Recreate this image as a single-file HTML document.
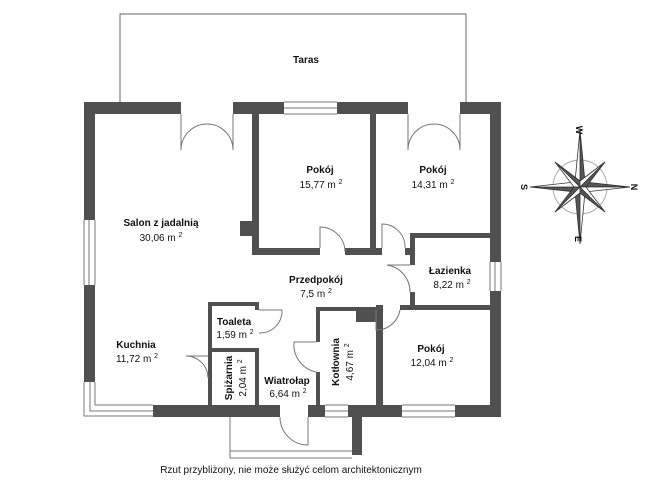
<!DOCTYPE html>
<html><head><style>
body{margin:0;background:#fff;width:654px;height:491px;overflow:hidden}
text{font-family:"Liberation Sans",sans-serif;font-size:10px;fill:#111;text-anchor:middle}
.b{font-weight:bold}
</style></head><body>
<svg width="654" height="491" viewBox="0 0 654 491">
<g fill="none" stroke="#666" stroke-width="1">
<path d="M120 103 V14 H466 V103"/>
</g>
<g fill="#505050">
<rect x="84" y="102" width="97" height="12"/>
<rect x="233" y="102" width="51" height="12"/>
<rect x="337" y="102" width="71" height="12"/>
<rect x="460" y="102" width="41" height="12"/>
<rect x="84" y="102" width="11" height="118"/>
<rect x="84" y="285" width="11" height="97"/>
<rect x="490" y="102" width="11" height="160"/>
<rect x="490" y="291" width="11" height="125"/>
<rect x="153" y="405" width="127" height="12"/>
<rect x="308" y="405" width="17" height="12"/>
<rect x="348" y="405" width="54" height="12"/>
<rect x="455" y="405" width="46" height="12"/>
<rect x="352" y="405" width="10" height="50"/>
<rect x="252" y="114" width="7" height="141"/>
<rect x="240" y="221" width="13" height="15"/>
<rect x="370" y="114" width="6" height="141"/>
<rect x="252" y="248" width="68" height="7"/>
<rect x="345" y="248" width="37" height="7"/>
<rect x="405" y="248" width="8" height="7"/>
<rect x="410" y="233" width="81" height="5"/>
<rect x="410" y="233" width="5" height="32"/>
<rect x="410" y="292" width="5" height="17"/>
<rect x="400" y="305" width="91" height="5"/>
<rect x="355" y="307" width="21" height="4"/>
<rect x="376" y="305" width="7" height="100"/>
<rect x="356" y="307" width="20" height="15"/>
<rect x="208" y="302" width="4" height="103"/>
<rect x="208" y="302" width="51" height="4"/>
<rect x="255" y="302" width="4" height="8"/>
<rect x="208" y="348" width="51" height="4"/>
<rect x="255" y="348" width="4" height="57"/>
<rect x="316" y="307" width="4" height="35"/>
<rect x="316" y="372" width="4" height="33"/>
<rect x="316" y="307" width="40" height="4"/>
</g>
<g fill="none" stroke="#777" stroke-width="1">
<path d="M84 220 V285 M89 220 V285 M95 220 V285"/>
<path d="M84 382 V416 H153 M90 382 V411 H153 M95 382 V405 H153"/>
<path d="M490 262 V291 M495 262 V291 M501 262 V291"/>
<path d="M284 102 H337 M284 108 H337 M284 114 H337"/>
<path d="M402 405 H455 M402 411 H455 M402 417 H455"/>
<path d="M325 405 H348 M325 411 H348 M325 417 H348"/>
<path d="M181 114 V150 A26 26 0 0 1 207 124 A26 26 0 0 1 233 150 V114"/>
<path d="M408 114 V150 A26 26 0 0 1 434 124 A26 26 0 0 1 460 150 V114"/>
<path d="M320 248 V227 A25 25 0 0 1 345 252"/>
<path d="M382 248 V224 A23 23 0 0 1 405 248"/>
<path d="M410 265 H387 A27 27 0 0 1 410 292"/>
<path d="M376 310 V330 A24 24 0 0 0 400 310"/>
<path d="M259 310 H282 A22 22 0 0 1 259 333"/>
<path d="M208 356 H186 A22 22 0 0 1 208 378"/>
<path d="M316 342 H294 A28 28 0 0 0 316 372"/>
<path d="M280 417 A28 28 0 0 0 308 445 V417"/>
<path d="M230 417 V458 H352 M230 451 H352"/>
</g>
<g transform="translate(580,187)">
<circle r="27" fill="none" stroke="#aaa" stroke-width="1"/>
<g stroke="#333" stroke-width="0.8">
<polygon points="0,-57 5,-5 0,0" fill="#555"/><polygon points="0,-57 -5,-5 0,0" fill="#fff"/>
<polygon points="0,57 -5,5 0,0" fill="#555"/><polygon points="0,57 5,5 0,0" fill="#fff"/>
<polygon points="-50,0 -5,5 0,0" fill="#555"/><polygon points="-50,0 -5,-5 0,0" fill="#fff"/>
<polygon points="50,0 5,-5 0,0" fill="#555"/><polygon points="50,0 5,5 0,0" fill="#fff"/>
<polygon points="-25,-25 0,-6 0,0" fill="#555"/><polygon points="-25,-25 -6,0 0,0" fill="#fff"/>
<polygon points="25,-25 6,0 0,0" fill="#555"/><polygon points="25,-25 0,-6 0,0" fill="#fff"/>
<polygon points="25,25 0,6 0,0" fill="#555"/><polygon points="25,25 6,0 0,0" fill="#fff"/>
<polygon points="-25,25 -6,0 0,0" fill="#555"/><polygon points="-25,25 0,6 0,0" fill="#fff"/>
</g>
<text class="b" transform="translate(-1,-57) rotate(90)" style="font-size:9px" y="3">W</text>
<text class="b" transform="translate(-56,0) rotate(90)" style="font-size:9px" y="3">S</text>
<text class="b" transform="translate(54,0) rotate(90)" style="font-size:9px" y="3">N</text>
<text class="b" transform="translate(-2,52) rotate(90)" style="font-size:9px" y="3">E</text>
</g>
<text class="b" x="306" y="63">Taras</text>
<text class="b" x="161" y="226">Salon z jadalnią</text><text x="161" y="241">30,06 m <tspan dy="-4" style="font-size:7px">2</tspan></text>
<text class="b" x="320" y="173">Pokój</text><text x="321" y="188">15,77 m <tspan dy="-4" style="font-size:7px">2</tspan></text>
<text class="b" x="433" y="173">Pokój</text><text x="433" y="188">14,31 m <tspan dy="-4" style="font-size:7px">2</tspan></text>
<text class="b" x="316" y="283">Przedpokój</text><text x="316" y="297">7,5 m <tspan dy="-4" style="font-size:7px">2</tspan></text>
<text class="b" x="450" y="274">Łazienka</text><text x="452" y="288">8,22 m <tspan dy="-4" style="font-size:7px">2</tspan></text>
<text class="b" x="234" y="325">Toaleta</text><text x="235" y="338">1,59 m <tspan dy="-4" style="font-size:7px">2</tspan></text>
<text class="b" x="136" y="348">Kuchnia</text><text x="137" y="362">11,72 m <tspan dy="-4" style="font-size:7px">2</tspan></text>
<text class="b" x="431" y="352">Pokój</text><text x="432" y="366">12,04 m <tspan dy="-4" style="font-size:7px">2</tspan></text>
<text class="b" x="287" y="384">Wiatrołap</text><text x="288" y="397">6,64 m <tspan dy="-4" style="font-size:7px">2</tspan></text>
<text class="b" transform="translate(232,378) rotate(-90)">Spiżarnia</text>
<text transform="translate(246,378) rotate(-90)">2,04 m <tspan dy="-4" style="font-size:7px">2</tspan></text>
<text class="b" transform="translate(339,362) rotate(-90)">Kotłownia</text>
<text transform="translate(353,362) rotate(-90)">4,67 m <tspan dy="-4" style="font-size:7px">2</tspan></text>
<text x="291" y="473" style="font-size:10px">Rzut przybliżony, nie może służyć celom architektonicznym</text>
</svg>
</body></html>
